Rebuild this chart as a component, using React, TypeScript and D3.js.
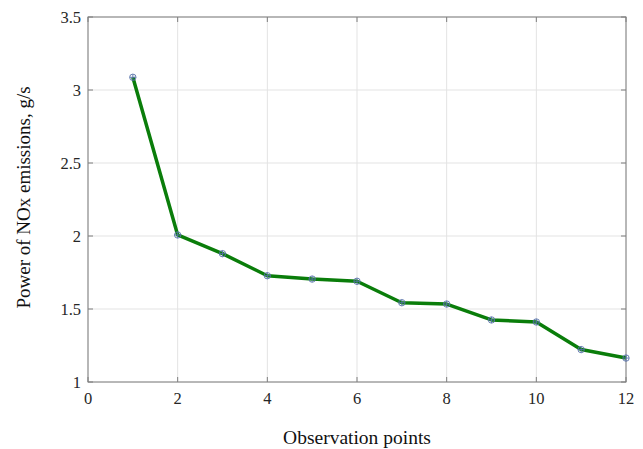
import React from "react";
import * as d3 from "d3";

const xValues = [1, 2, 3, 4, 5, 6, 7, 8, 9, 10, 11, 12];
const yValues = [3.087, 2.007, 1.879, 1.728, 1.705, 1.69, 1.543, 1.534, 1.425, 1.411, 1.222, 1.164];
const xTicks = [0, 2, 4, 6, 8, 10, 12];
const yTicks = [1, 1.5, 2, 2.5, 3, 3.5];
const xLabel = "Observation points";
const yLabel = "Power of NOx emissions, g/s";

export default function App() {
  const W = 643, H = 449;
  const left = 88, right = 626, top = 17, bottom = 382;
  const x = d3.scaleLinear().domain([0, 12]).range([left, right]);
  const y = d3.scaleLinear().domain([1, 3.5]).range([bottom, top]);
  const line = d3.line<number>().x((_, i) => x(xValues[i])).y((d) => y(d));
  const font = "'Liberation Serif', 'Times New Roman', serif";
  const axisColor = "#7f7f7f";
  return (
    <svg width={W} height={H} style={{ position: "absolute", left: 0, top: 0, background: "#fff" }}>
      <rect x={0} y={0} width={W} height={H} fill="#fff" />
      {xTicks.map((t) => (
        <line key={"gx" + t} x1={x(t)} x2={x(t)} y1={top} y2={bottom} stroke="#e3e3e3" strokeWidth={1} />
      ))}
      {yTicks.map((t) => (
        <line key={"gy" + t} x1={left} x2={right} y1={y(t)} y2={y(t)} stroke="#e3e3e3" strokeWidth={1} />
      ))}
      <rect x={left} y={top} width={right - left} height={bottom - top} fill="none" stroke={axisColor} strokeWidth={1} />
      {xTicks.map((t) => (
        <g key={"tx" + t}>
          <line x1={x(t)} x2={x(t)} y1={bottom} y2={bottom - 5} stroke={axisColor} />
          <line x1={x(t)} x2={x(t)} y1={top} y2={top + 5} stroke={axisColor} />
          <text x={x(t)} y={404} textAnchor="middle" fontFamily={font} fontSize={16.5} fill="#262626">{t}</text>
        </g>
      ))}
      {yTicks.map((t) => (
        <g key={"ty" + t}>
          <line x1={left} x2={left + 5} y1={y(t)} y2={y(t)} stroke={axisColor} />
          <line x1={right} x2={right - 5} y1={y(t)} y2={y(t)} stroke={axisColor} />
          <text x={81} y={y(t) + 5.5} textAnchor="end" fontFamily={font} fontSize={16.5} fill="#262626">{t}</text>
        </g>
      ))}
      <path d={line(yValues) || ""} fill="none" stroke="#0a7d0a" strokeWidth={3.5} strokeLinejoin="round" />
      {yValues.map((v, i) => (
        <g key={"m" + i} stroke="#5670a8" strokeWidth={0.9} fill="none">
          <circle cx={x(xValues[i])} cy={y(v)} r={3.2} />
          <line x1={x(xValues[i]) - 3} x2={x(xValues[i]) + 3} y1={y(v)} y2={y(v)} />
          <line x1={x(xValues[i])} x2={x(xValues[i])} y1={y(v) - 3} y2={y(v) + 3} />
        </g>
      ))}
      <text x={357} y={444} textAnchor="middle" fontFamily={font} fontSize={19.5} fill="#111">{xLabel}</text>
      <text transform={`translate(30, 197.5) rotate(-90)`} textAnchor="middle" fontFamily={font} fontSize={19} fill="#111">{yLabel}</text>
    </svg>
  );
}
